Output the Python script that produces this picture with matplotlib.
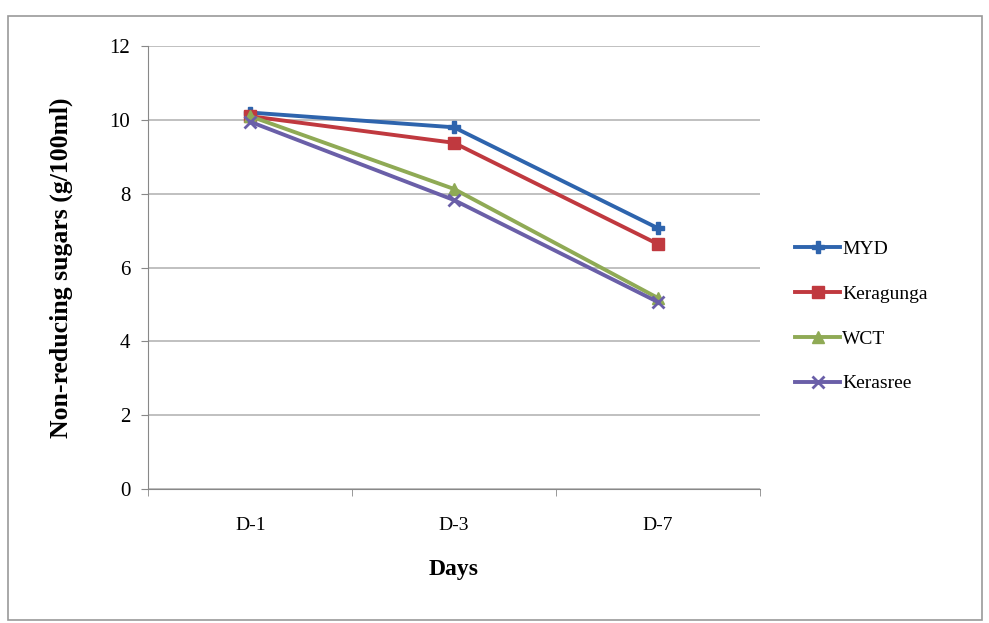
import numpy as np
import matplotlib
matplotlib.use("Agg")
import matplotlib.pyplot as plt
from matplotlib.patches import Rectangle

days = ["D-1", "D-3", "D-7"]
myd = [10.2, 9.8, 7.07]
keragunga = [10.1, 9.38, 6.64]
wct = [10.1, 8.13, 5.18]
kerasree = [9.95, 7.83, 5.07]

series = [("MYD", myd, "#2e64ad", "P", 8),
          ("Keragunga", keragunga, "#c0393f", "s", 9),
          ("WCT", wct, "#8faa55", "^", 8),
          ("Kerasree", kerasree, "#6a5fa8", "x", 8)]

plt.rcParams["font.family"] = ["Liberation Serif", "DejaVu Serif"]

fig = plt.figure(figsize=(9.89, 6.23), dpi=100)
fig.patches.append(Rectangle((0.008, 0.005), 0.985, 0.97, transform=fig.transFigure,
                             fill=False, edgecolor="#999999", lw=1.2))
ax = fig.add_axes([0.150, 0.215, 0.618, 0.711])

x = np.arange(len(days))
for name, vals, col, mk, ms in series:
    ax.plot(x, vals, color=col, lw=2.8, marker=mk, ms=ms, mec=col, mfc=col,
            mew=2 if mk == "x" else 1, label=name)

ax.set_xlim(-0.5, 2.5)
ax.set_ylim(0, 12)
ax.set_yticks(range(0, 13, 2))
ax.set_xticks(x)
ax.set_xticklabels(days)
ax.set_xticks([-0.5, 0.5, 1.5, 2.5], minor=True)
ax.tick_params(axis="x", which="major", length=0, pad=20, labelsize=14)
ax.tick_params(axis="x", which="minor", length=5, color="#888888")
ax.tick_params(axis="y", length=5, color="#888888", labelsize=15, pad=8)
ax.yaxis.grid(True, color="#b5b5b5", lw=1.2)
ax.set_axisbelow(True)
for s in ["top", "right"]:
    ax.spines[s].set_visible(False)
for s in ["left", "bottom"]:
    ax.spines[s].set_color("#888888")

ax.set_ylabel("Non-reducing sugars (g/100ml)", fontsize=18.5, fontweight="bold", labelpad=26)
ax.set_xlabel("Days", fontsize=17, fontweight="bold", labelpad=18)

ax.legend(loc="center left", bbox_to_anchor=(1.03, 0.39), frameon=False,
          fontsize=14, handlelength=2.3, labelspacing=1.4, handletextpad=0.1)

fig.savefig("out.png", dpi=100)
